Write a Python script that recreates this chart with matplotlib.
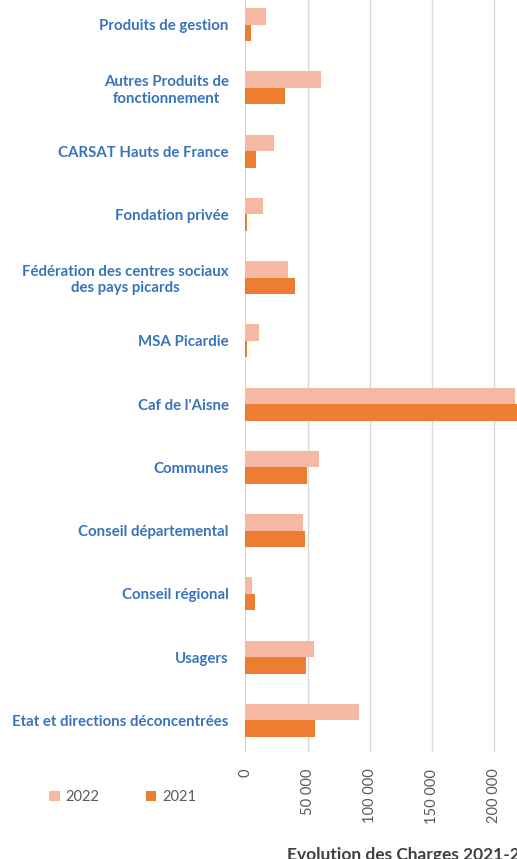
import numpy as np
import matplotlib
matplotlib.use("Agg")
import matplotlib.pyplot as plt

# categories listed top to bottom
categories = [
    "Produits de gestion",
    "Autres Produits de\nfonctionnement",
    "CARSAT Hauts de France",
    "Fondation privée",
    "Fédération des centres sociaux\ndes pays picards",
    "MSA Picardie",
    "Caf de l'Aisne",
    "Communes",
    "Conseil départemental",
    "Conseil régional",
    "Usagers",
    "Etat et directions déconcentrées",
]
val_2022 = [16600, 60900, 23300, 14500, 34600, 11300, 216900, 59500, 46400, 5600, 55500, 91700]
val_2021 = [4600, 32200, 8800, 1300, 40200, 1300, 222000, 49600, 47700, 8000, 48800, 56300]
ticks = [0, 50000, 100000, 150000, 200000]
tick_labels = ["0", "50 000", "100 000", "150 000", "200 000"]

col_2022 = "#F4B8A3"
col_2021 = "#ED7D31"
label_blue = "#3874BA"
grey = "#595959"

plt.rcParams['font.family'] = ['Lato', 'DejaVu Sans']

fig = plt.figure(figsize=(5.17, 8.59), dpi=100)
ax = fig.add_axes([0.4745, 0.1246, 0.6015, 0.8835])

y = np.arange(len(categories))
h = 0.26
ax.barh(y - h / 2, val_2022, height=h, color=col_2022, label="2022", zorder=3)
ax.barh(y + h / 2, val_2021, height=h, color=col_2021, label="2021", zorder=3)

ax.set_ylim(len(categories) - 0.5, -0.5)
ax.set_xlim(0, 250000)
ax.set_yticks(y)
ax.set_yticklabels(categories, fontsize=10.8, fontweight='bold', color=label_blue)
for lab in ax.get_yticklabels():
    lab.set_multialignment('center')
ax.set_xticks(ticks)
ax.set_xticklabels(tick_labels, rotation=90, fontsize=10.5, color=grey)
ax.tick_params(axis='both', length=0)
ax.tick_params(axis='y', pad=12)
ax.tick_params(axis='x', pad=12)
ax.grid(axis='x', color='#D9D9D9', linewidth=1, zorder=0)
for s in ax.spines.values():
    s.set_visible(False)

fig.legend(loc='center left', bbox_to_anchor=(0.07, 0.072), ncol=2, frameon=False,
           fontsize=10.5, labelcolor=grey, handlelength=0.7, handleheight=0.7,
           columnspacing=3.2, handletextpad=0.4)

# chart title sits at the bottom, clipped by the crop like in the source image
fig.text(0.555, 0.0145, "Evolution des Charges 2021-2022", fontsize=12.5, fontweight='bold',
         color='#404040', ha='left', va='top')

fig.savefig("out.png", dpi=100)
